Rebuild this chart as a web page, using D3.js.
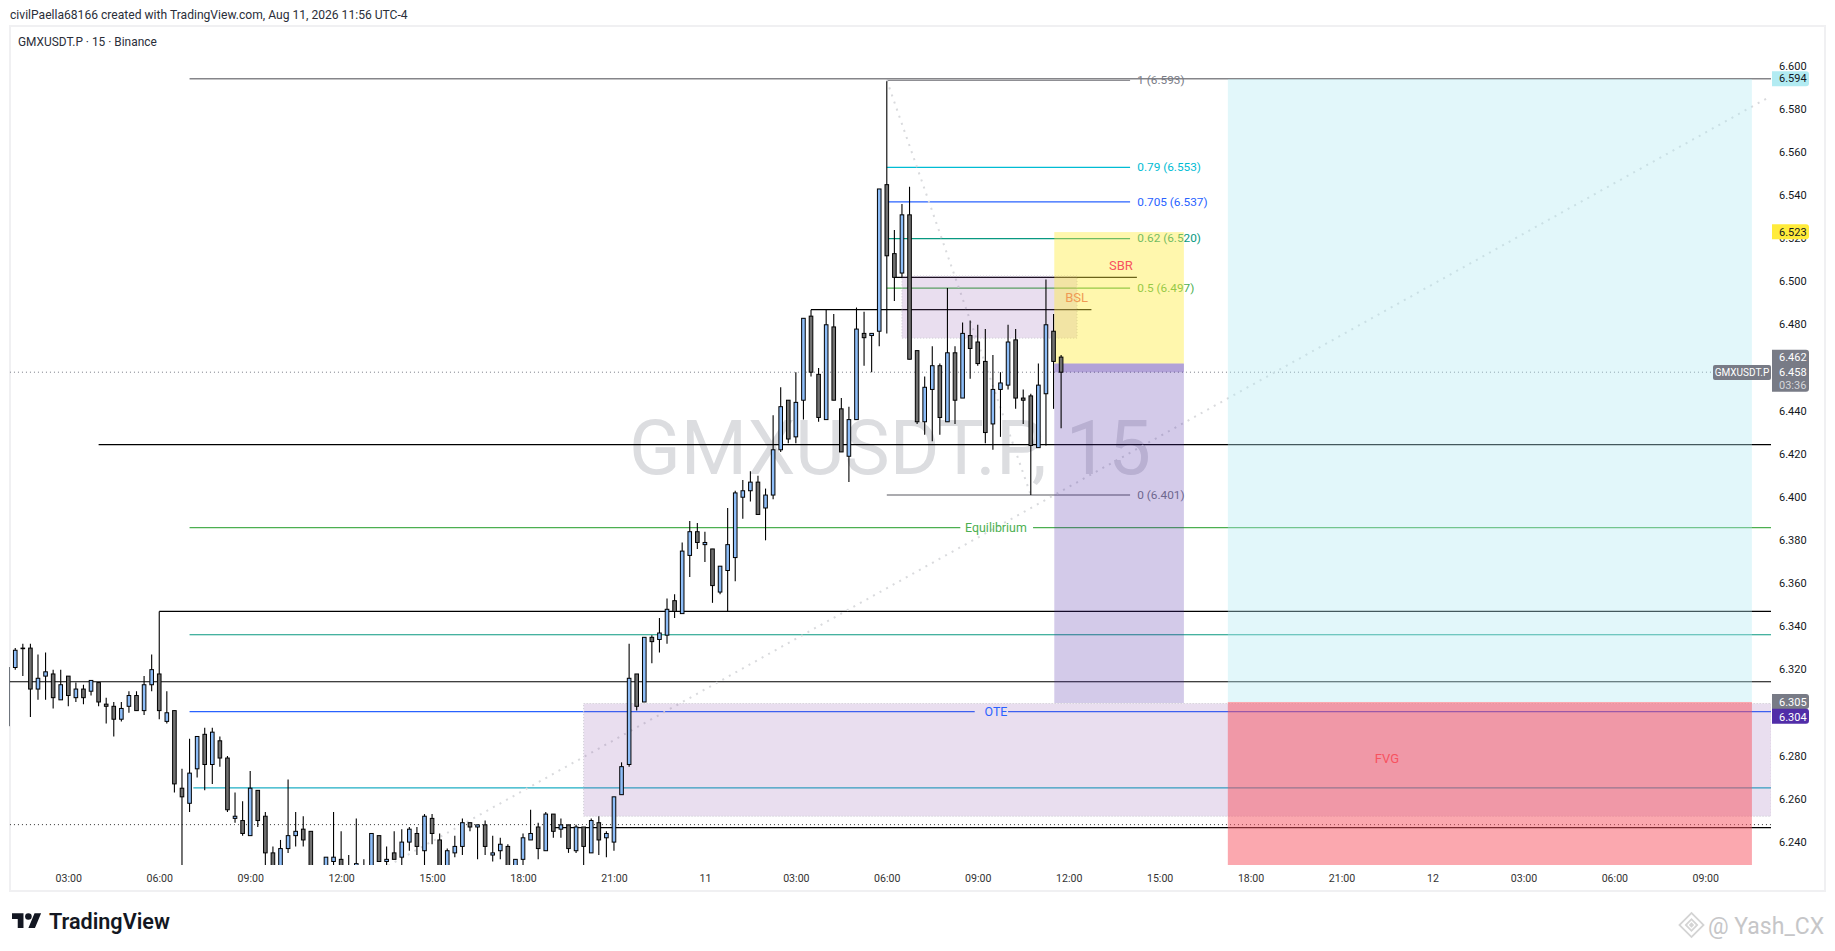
<!doctype html>
<html>
<head>
<meta charset="utf-8"/>
<title>GMXUSDT.P 15</title>
<script src="https://d3js.org/d3.v7.min.js"></script>
<style>
  html, body { margin: 0; padding: 0; background: #fff; overflow: hidden; }
  svg { display: block; }
  text { font-family: Roboto, "Noto Sans", sans-serif; }
</style>
</head>
<body>
<div id="chart"></div>
<script>
// first bar sits 8 bars before the 03:00 tick
var firstBar = -8;

var opens = [
  6.294,6.321,6.330,6.330,6.311,6.317,6.318,6.306,6.317,6.307,
  6.311,6.310,6.314,6.304,6.303,6.297,6.303,6.308,6.301,6.313,
  6.318,6.296,6.301,6.265,6.258,6.274,6.290,6.276,6.287,6.279,
  6.251,6.250,6.243,6.264,6.252,6.235,6.222,6.237,6.243,6.246,
  6.245,6.222,6.224,6.231,6.232,6.226,6.222,6.226,6.222,6.243,
  6.231,6.235,6.233,6.240,6.244,6.236,6.251,6.241,6.222,6.235,
  6.238,6.249,6.247,6.248,6.234,6.236,6.238,6.222,6.232,6.241,
  6.247,6.236,6.253,6.246,6.248,6.236,6.247,6.235,6.249,6.242,
  6.240,6.262,6.276,6.318,6.305,6.335,6.334,6.336,6.352,6.346,
  6.373,6.384,6.378,6.376,6.356,6.366,6.372,6.400,6.403,6.407,
  6.395,6.401,6.422,6.445,6.428,6.445,6.484,6.457,6.436,6.479,
  6.441,6.419,6.436,6.476,6.475,6.477,6.545,6.513,6.504,6.531,
  6.468,6.435,6.450,6.461,6.435,6.467,6.446,6.475,6.472,6.463,
  6.434,6.450,6.452,6.473,6.446,6.447,6.423,6.448,6.477,6.465
];
var highs = [
  6.321,6.330,6.332,6.332,6.327,6.328,6.320,6.320,6.317,6.314,
  6.313,6.315,6.314,6.307,6.305,6.305,6.310,6.310,6.317,6.327,
  6.347,6.310,6.301,6.274,6.288,6.289,6.293,6.293,6.289,6.280,
  6.263,6.259,6.273,6.264,6.254,6.238,6.241,6.269,6.254,6.252,
  6.245,6.228,6.233,6.254,6.245,6.234,6.251,6.232,6.244,6.243,
  6.238,6.245,6.246,6.247,6.247,6.253,6.253,6.244,6.237,6.243,
  6.251,6.249,6.248,6.250,6.243,6.242,6.239,6.232,6.244,6.255,
  6.249,6.254,6.253,6.251,6.248,6.248,6.247,6.251,6.252,6.245,
  6.261,6.277,6.332,6.318,6.335,6.336,6.344,6.353,6.355,6.379,
  6.389,6.388,6.384,6.376,6.368,6.395,6.403,6.408,6.412,6.410,
  6.404,6.438,6.451,6.445,6.458,6.483,6.487,6.460,6.487,6.485,
  6.446,6.442,6.488,6.486,6.476,6.543,6.593,6.524,6.536,6.544,
  6.468,6.456,6.470,6.462,6.497,6.470,6.481,6.482,6.480,6.478,
  6.466,6.458,6.480,6.478,6.450,6.448,6.462,6.501,6.485,6.466
];
var lows = [
  6.294,6.320,6.317,6.298,6.306,6.306,6.302,6.306,6.303,6.305,
  6.304,6.308,6.303,6.295,6.289,6.296,6.300,6.301,6.299,6.310,
  6.297,6.295,6.263,6.225,6.254,6.270,6.264,6.267,6.275,6.254,
  6.249,6.243,6.243,6.247,6.225,6.215,6.218,6.235,6.238,6.238,
  6.212,6.210,6.220,6.226,6.218,6.218,6.218,6.220,6.220,6.231,
  6.229,6.232,6.228,6.236,6.234,6.226,6.239,6.222,6.220,6.233,
  6.234,6.245,6.232,6.234,6.231,6.232,6.218,6.220,6.228,6.241,
  6.232,6.236,6.242,6.242,6.235,6.235,6.229,6.235,6.234,6.233,
  6.236,6.262,6.275,6.301,6.305,6.323,6.328,6.332,6.344,6.346,
  6.363,6.376,6.370,6.351,6.355,6.347,6.361,6.390,6.398,6.392,
  6.380,6.399,6.421,6.425,6.425,6.436,6.456,6.435,6.436,6.445,
  6.421,6.407,6.436,6.461,6.458,6.470,6.476,6.491,6.502,6.464,
  6.434,6.429,6.426,6.429,6.435,6.434,6.446,6.455,6.461,6.425,
  6.422,6.428,6.450,6.441,6.434,6.401,6.423,6.424,6.441,6.432
];
var closes = [
  6.321,6.329,6.330,6.311,6.316,6.319,6.307,6.313,6.308,6.311,
  6.307,6.315,6.305,6.303,6.297,6.302,6.308,6.301,6.313,6.320,
  6.301,6.300,6.267,6.261,6.272,6.289,6.276,6.291,6.279,6.255,
  6.252,6.244,6.265,6.250,6.235,6.220,6.237,6.243,6.245,6.241,
  6.215,6.218,6.233,6.233,6.222,6.222,6.230,6.224,6.244,6.231,
  6.232,6.232,6.240,6.246,6.238,6.252,6.244,6.226,6.236,6.238,
  6.249,6.247,6.248,6.238,6.235,6.239,6.222,6.232,6.242,6.244,
  6.237,6.253,6.245,6.248,6.237,6.247,6.238,6.250,6.241,6.244,
  6.261,6.275,6.316,6.303,6.335,6.333,6.337,6.348,6.347,6.375,
  6.384,6.379,6.379,6.359,6.368,6.378,6.402,6.403,6.407,6.392,
  6.401,6.422,6.442,6.427,6.444,6.483,6.458,6.437,6.480,6.445,
  6.421,6.436,6.478,6.474,6.476,6.543,6.512,6.502,6.531,6.464,
  6.435,6.451,6.461,6.437,6.467,6.445,6.476,6.469,6.462,6.430,
  6.450,6.453,6.472,6.446,6.445,6.424,6.452,6.480,6.463,6.458
];

// 6.30 and 6.46 stay hidden behind the price labels, so no ticks for them
var priceTicks = [6.24,6.26,6.28,6.32,6.34,6.36,6.38,6.40,6.42,6.44,6.48,6.50,6.52,6.54,6.56,6.58,6.60];
var timeTickBars = [0,12,24,36,48,60,72,84,96,108,120,132,144,156,168,180,192,204,216];
var timeLabels = ["03:00","06:00","09:00","12:00","15:00","18:00","21:00","11","03:00","06:00","09:00","12:00","15:00","18:00","21:00","12","03:00","06:00","09:00"];

var fibLabels = ["1 (6.593)","0.79 (6.553)","0.705 (6.537)","0.62 (6.520)","0.5 (6.497)","0 (6.401)"];
var fibPrices = [6.5934,6.553,6.537,6.520,6.497,6.401];
var fibColors = ["#787b86","#00bcd4","#2962ff","#089981","#4caf50","#787b86"];

var lastPrice = 6.458;

var width = 1835, height = 951;
var svg = d3.select("#chart").append("svg").attr("width", width).attr("height", height);

var x = d3.scaleLinear().domain([0, 216]).range([68.3, 1705.3]);
var y = d3.scaleLinear().domain([6.24, 6.60]).range([842.1, 66.1]);
var yTick = d3.scaleLinear().domain([6.24, 6.60]).range([841.7, 65.7]);

// pane frame
var paneL = 9.5, paneT = 27, paneB = 865, drawR = 1771;
svg.append("rect").attr("x", 10).attr("y", 26).attr("width", 1815).attr("height", 865)
  .attr("fill", "none").attr("stroke", "#f0f0f2").attr("stroke-width", 2);

svg.append("text").attr("x", 10).attr("y", 19).attr("font-size", 12.1).attr("fill", "#2a2e39")
  .text("civilPaella68166 created with TradingView.com, Aug 11, 2026 11:56 UTC-4");
svg.append("text").attr("x", 18).attr("y", 46).attr("font-size", 11.9).attr("fill", "#2a2e39")
  .text("GMXUSDT.P · 15 · Binance");

svg.append("defs").append("clipPath").attr("id", "pane").append("rect")
  .attr("x", paneL).attr("y", paneT).attr("width", drawR - paneL).attr("height", paneB - paneT);

// symbol watermark
svg.append("text").attr("x", 890).attr("y", 474).attr("text-anchor", "middle")
  .attr("font-family", "Open Sans").attr("font-size", 76).attr("fill", "#dcdde0")
  .text("GMXUSDT.P, 15");

var g = svg.append("g").attr("clip-path", "url(#pane)");

function seg(price, i0, i1, color, w) {
  g.append("line")
    .attr("x1", x(i0)).attr("x2", x(i1))
    .attr("y1", y(price)).attr("y2", y(price))
    .attr("stroke", color).attr("stroke-width", w || 1.2);
}

function dotted(i0, p0, i1, p1) {
  g.append("line")
    .attr("x1", x(i0)).attr("x2", x(i1))
    .attr("y1", y(p0)).attr("y2", y(p1))
    .attr("stroke", "#d9dadd").attr("stroke-width", 2).attr("stroke-dasharray", "2 5.5");
}

var leftEnd = -7.7, rightEnd = 224.7;

// levels
seg(6.5941, 16, rightEnd, "#858589", 1.4);
seg(6.4244, 4, rightEnd, "#000");
seg(6.347, 12, rightEnd, "#000");
seg(6.3144, leftEnd, rightEnd, "#000");
seg(6.2467, 64, rightEnd, "#000");
seg(6.3362, 16, rightEnd, "#089981");
seg(6.2652, 16.5, rightEnd, "#1eaec4");
seg(6.3859, 16, 117.7, "#4caf50");
seg(6.3859, 127.3, rightEnd, "#4caf50");
seg(6.3005, 16, 119.6, "#2962ff");
seg(6.3005, 124, rightEnd, "#2962ff");
seg(6.502, 109, 141, "#000");
seg(6.487, 98, 135, "#000");

g.append("line").attr("x1", x(leftEnd)).attr("x2", x(rightEnd))
  .attr("y1", y(6.2481)).attr("y2", y(6.2481))
  .attr("stroke", "#333").attr("stroke-width", 1).attr("stroke-dasharray", "1 3");
g.append("line").attr("x1", x(leftEnd)).attr("x2", x(rightEnd))
  .attr("y1", y(lastPrice)).attr("y2", y(lastPrice))
  .attr("stroke", "#787b86").attr("stroke-width", 1).attr("stroke-dasharray", "1 3");

// fib levels
fibPrices.forEach(function (p, k) {
  var grey = k == 0 || k == 5;
  seg(p, 108, 140.1, grey ? "#8f8f94" : fibColors[k], grey ? 1.4 : 1.2);
  g.append("text").attr("x", x(141.05)).attr("y", y(p) + 3.7)
    .attr("font-size", 11.8).attr("fill", fibColors[k]).text(fibLabels[k]);
});

dotted(108, 6.5934, 127, 6.401);
dotted(42.2, 6.229, 224.1, 6.585);

// boxes
function box(i0, i1, p0, p1, fill, border) {
  var r = g.append("rect")
    .attr("x", x(i0)).attr("width", x(i1) - x(i0))
    .attr("y", y(p0)).attr("height", y(p1) - y(p0))
    .attr("fill", fill);
  if (border) r.attr("stroke", "#c9c9cf").attr("stroke-dasharray", "1 2");
}
var zoneFill = "rgba(145,90,175,0.2)";
box(68, rightEnd, 6.3043, 6.252, zoneFill, true);
box(110, 133.1, 6.5026, 6.4738, zoneFill, true);
box(130.1, 147.2, 6.523, 6.462, "rgba(255,235,59,0.42)");
box(130.1, 147.2, 6.462, 6.3045, "rgba(81,45,168,0.25)");
box(130.1, 147.2, 6.462, 6.458, "rgba(81,45,168,0.25)");
box(153, 222.15, 6.594, 6.305, "rgba(178,235,242,0.38)");
box(153, 222.15, 6.305, 6.20, "rgba(247,82,95,0.5)");

function note(i, p, txt, color, size) {
  g.append("text").attr("x", x(i)).attr("y", y(p)).attr("dy", "0.35em")
    .attr("text-anchor", "middle").attr("font-size", size || 12.4).attr("fill", color).text(txt);
}
note(138.9, 6.5075, "SBR", "#f7525f", 13);
note(133.05, 6.4927, "BSL", "#ef9a54", 13);
note(174, 6.2788, "FVG", "#f7525f", 13);
note(122.4, 6.3859, "Equilibrium", "#4caf50");
note(122.4, 6.3005, "OTE", "#2962ff");

// candles
var bars = d3.range(opens.length);
var candles = g.append("g");
candles.selectAll("line").data(bars).enter().append("line")
  .attr("x1", function (d) { return x(d + firstBar); })
  .attr("x2", function (d) { return x(d + firstBar); })
  .attr("y1", function (d) { return y(highs[d]); })
  .attr("y2", function (d) { return y(lows[d]); })
  .attr("stroke", "#000").attr("stroke-width", 1.1);
candles.selectAll("rect").data(bars).enter().append("rect")
  .attr("x", function (d) { return x(d + firstBar) - 1.8; })
  .attr("width", 3.6)
  .attr("y", function (d) { return y(Math.max(opens[d], closes[d])); })
  .attr("height", function (d) { return Math.max(0.6, Math.abs(y(opens[d]) - y(closes[d]))); })
  .attr("fill", function (d) { return closes[d] >= opens[d] ? "#8dbdf8" : "#707070"; })
  .attr("stroke", "#000").attr("stroke-width", 1);

// axes
var timeAxis = d3.axisBottom(x).tickValues(timeTickBars).tickSize(0).tickPadding(0)
  .tickFormat(function (d, i) { return timeLabels[i]; });
var tx = svg.append("g").attr("transform", "translate(0,874)").call(timeAxis);
tx.select(".domain").remove();
tx.selectAll("text").attr("font-family", "Roboto").attr("font-size", 10.6).attr("fill", "#333");

var priceAxis = d3.axisRight(yTick).tickValues(priceTicks).tickSize(0).tickPadding(0)
  .tickFormat(d3.format(".3f"));
var ty = svg.append("g").attr("transform", "translate(1779,0)").call(priceAxis);
ty.select(".domain").remove();
ty.selectAll("text").attr("font-family", "Roboto").attr("font-size", 11).attr("fill", "#131722");

// price labels on the scale
function priceLabel(yc, h, fill, rows) {
  svg.append("path")
    .attr("d", "M1772 " + (yc - h / 2) + "h34q3 0 3 3v" + (h - 6) + "q0 3 -3 3h-34z")
    .attr("fill", fill);
  rows.forEach(function (r) {
    svg.append("text").attr("x", 1779).attr("y", r[1]).attr("dy", "0.35em")
      .attr("font-size", 11).attr("fill", r[2]).text(r[0]);
  });
}
priceLabel(yTick(6.594), 15, "#b2ebf2", [["6.594", yTick(6.594), "#131722"]]);
priceLabel(yTick(6.523), 15, "#ffeb3b", [["6.523", yTick(6.523), "#131722"]]);
priceLabel(370.8, 42, "#787b86", [["6.462", 357.3, "#fff"], ["6.458", yTick(lastPrice), "#fff"], ["03:36", 385, "#d5d6da"]]);
priceLabel(701.4, 15, "#787b86", [["6.305", 701.7, "#fff"]]);
priceLabel(716.2, 15, "#512da8", [["6.304", 716.7, "#fff"]]);

svg.append("rect").attr("x", 1713).attr("y", 365).attr("width", 58).attr("height", 15).attr("rx", 2).attr("fill", "#787b86");
svg.append("text").attr("x", 1742).attr("y", 372.5).attr("dy", "0.35em").attr("text-anchor", "middle")
  .attr("font-size", 10).attr("fill", "#fff").text("GMXUSDT.P");

// TradingView logo
var logo = svg.append("g").attr("transform", "translate(12,910) scale(0.82)");
logo.append("path").attr("d", "M14 22H7V11H0V4h14v18zM28 22h-8l7.5-18h8L28 22z").attr("fill", "#131722");
logo.append("circle").attr("cx", 20).attr("cy", 8).attr("r", 4).attr("fill", "#131722");
svg.append("text").attr("x", 49).attr("y", 929).attr("font-family", "Inter").attr("font-weight", 600)
  .attr("font-size", 21.6).attr("fill", "#131722").text("TradingView");

// credit mark, bottom right
var mark = svg.append("g").attr("transform", "translate(1691.5,925) rotate(45)")
  .attr("fill", "none").attr("stroke", "#d4d4d4").attr("stroke-width", 1.8);
mark.append("rect").attr("x", -8.5).attr("y", -8.5).attr("width", 17).attr("height", 17);
mark.append("rect").attr("x", -4).attr("y", -4).attr("width", 8).attr("height", 8);
mark.append("rect").attr("x", -1).attr("y", -1).attr("width", 2).attr("height", 2);
svg.append("text").attr("x", 1708).attr("y", 934).attr("font-family", "Open Sans").attr("font-size", 23)
  .attr("fill", "#c6c6c8").text("@ Yash_CX");
</script>
</body>
</html>
